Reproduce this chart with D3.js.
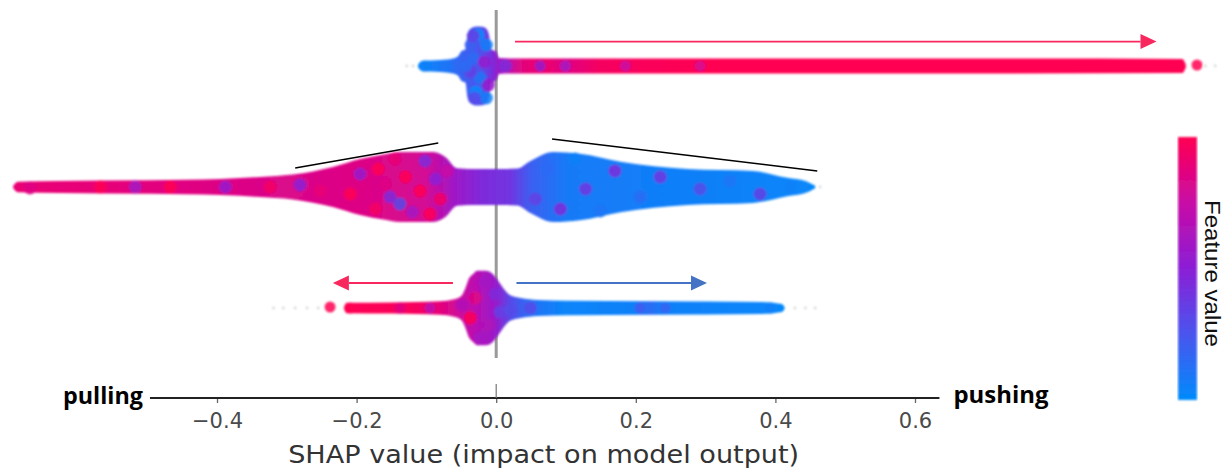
<!DOCTYPE html>
<html><head><meta charset="utf-8">
<script src="https://cdn.jsdelivr.net/npm/d3@7"></script>
<style>html,body{margin:0;padding:0;background:#fff;} svg{display:block;}</style>
</head><body>
<svg id="chart" width="1225" height="469"></svg>
<script>
// ---------------- data ----------------
const features = ["feature_1", "feature_2", "feature_3"];
const tickValues = [-0.4, -0.2, 0.0, 0.2, 0.4, 0.6];
const axisExtent = [-0.496, 0.635];
const xLabel = "SHAP value (impact on model output)";
const colorbarLabel = "Feature value";
const leftLabel = "pulling";
const rightLabel = "pushing";

// colormap stops (feature value -> colour)
const cmapStops = [0, 0.25, 0.5, 0.75, 1];
const cmapColors = ["#008bfb", "#4a55ee", "#8b1fd6", "#c80aa6", "#ff0052"];

// density profiles: [shap value, half-width density]
const profile1 = [[-0.112,0.03],[-0.106,0.13],[-0.08,0.15],[-0.062,0.19],[-0.055,0.24],[-0.05,0.37],[-0.044,0.42],[-0.041,0.8],[-0.037,0.93],[-0.028,0.99],[-0.02,0.98],[-0.014,0.93],[-0.01,0.75],[-0.007,0.42],[0.0,0.36],[0.004,0.2],[0.02,0.19],[0.3,0.185],[0.7,0.185],[0.983,0.175],[0.988,0.04]];
const profile2 = [[-0.692,0.03],[-0.685,0.13],[-0.625,0.15],[-0.496,0.17],[-0.395,0.2],[-0.338,0.25],[-0.291,0.31],[-0.234,0.5],[-0.195,0.7],[-0.159,0.82],[-0.138,0.875],[-0.09,0.875],[-0.073,0.75],[-0.056,0.47],[-0.037,0.45],[0.006,0.45],[0.03,0.46],[0.049,0.65],[0.082,0.875],[0.12,0.83],[0.178,0.63],[0.274,0.45],[0.368,0.4],[0.417,0.23],[0.443,0.15],[0.457,0.03]];
const profile3 = [[-0.218,0.03],[-0.214,0.13],[-0.15,0.14],[-0.08,0.17],[-0.06,0.22],[-0.05,0.3],[-0.043,0.55],[-0.04,0.7],[-0.033,0.85],[-0.027,0.93],[-0.015,0.93],[-0.005,0.85],[0.002,0.7],[0.01,0.5],[0.02,0.32],[0.035,0.25],[0.06,0.2],[0.1,0.18],[0.22,0.17],[0.38,0.15],[0.409,0.1],[0.413,0.03]];

// colour profiles: [shap value, feature value 0..1]
const color1 = [[-0.112,0.02],[-0.07,0.1],[-0.045,0.2],[-0.02,0.28],[-0.005,0.45],[0.01,0.65],[0.04,0.88],[0.07,0.92],[0.1,0.85],[0.15,0.96],[0.3,1.0],[1.0,1.0]];
const color2 = [[-0.69,0.9],[-0.55,0.88],[-0.4,0.85],[-0.3,0.83],[-0.2,0.85],[-0.1,0.8],[-0.06,0.58],[-0.02,0.45],[0.02,0.4],[0.05,0.2],[0.1,0.08],[0.2,0.06],[0.3,0.05],[0.46,0.02]];
const color3 = [[-0.22,1.0],[-0.12,0.97],[-0.09,0.92],[-0.06,0.8],[-0.03,0.7],[0.0,0.55],[0.02,0.3],[0.05,0.12],[0.1,0.03],[0.2,0.05],[0.22,0.15],[0.24,0.05],[0.41,0.02]];

// visible dots: [shap value, swarm offset, feature value]
const dots1 = [[-0.026,-0.775,0.0],[-0.014,-0.525,0.05],[-0.033,-0.2,0.15],[-0.023,0.3,0.1],[-0.029,0.65,0.0],[-0.014,0.8,0.05],[-0.037,0.15,0.35],[-0.017,-0.1,0.55],[-0.044,0.0,0.15],[-0.011,0.475,0.55],[-0.036,-0.525,0.2],[-0.031,0.8,0.3],[-0.033,-0.75,0.35],[-0.102,0.0,0.05],[-0.073,0.0,0.1],[0.013,0.0,0.45],[0.063,0.0,0.55],[0.099,0.0,0.6],[0.185,0.0,0.75],[0.292,0.0,0.8],[1.004,-0.025,1.0]];
const dots2 = [[-0.668,0.025,0.85],[-0.567,0,1.0],[-0.517,0,0.6],[-0.467,0,1.0],[-0.388,0,0.55],[-0.324,0,0.95],[-0.281,-0.05,0.5],[-0.252,0.1,0.9],[-0.209,0.175,1.0],[-0.195,-0.325,0.55],[-0.173,0.55,0.95],[-0.169,-0.45,1.0],[-0.152,0.25,0.45],[-0.145,-0.7,0.9],[-0.13,-0.25,1.0],[-0.12,0.625,0.6],[-0.109,0.1,1.0],[-0.102,-0.65,0.45],[-0.095,0.675,1.0],[-0.087,-0.2,0.5],[-0.08,0.3,0.95],[-0.07,-0.4,0.75],[-0.138,0.425,0.3],[-0.159,-0.075,0.85],[0.056,0.3,0.35],[0.074,-0.45,0.15],[0.092,0.55,0.45],[0.113,-0.7,0.05],[0.128,0.05,0.4],[0.149,0.6,0.1],[0.17,-0.4,0.45],[0.206,0.25,0.15],[0.235,-0.25,0.4],[0.292,0.05,0.3],[0.335,-0.15,0.1],[0.378,0.175,0.35],[0.421,0,0.05]];
const dots3 = [[-0.238,-0.025,1.0],[-0.209,0,1.0],[-0.138,0,0.85],[-0.095,0,0.7],[-0.016,-0.65,0.6],[-0.03,-0.25,0.85],[-0.001,-0.35,0.45],[-0.037,0.25,1.0],[-0.011,0.425,0.65],[-0.023,0.75,0.6],[0.006,0.1,0.35],[-0.049,-0.075,0.65],[0.02,0.05,0.3],[0.049,0,0.3],[0.206,0,0.22],[0.242,0,0.18],[0.393,0,0.05]];

// faint outliers (shap values)
const faint1 = [-0.128, -0.119, 1.016, 1.03];
const faint2 = [0.464];
const faint3 = [-0.319, -0.305, -0.288, -0.271, -0.255, 0.428, 0.443, 0.457];

// annotations
const arrows = [
  {row: "feature_1", from: 0.027, to: 0.946, offset: -0.61, color: "#f8285f"},
  {row: "feature_3", from: -0.062, to: -0.234, offset: -0.625, color: "#f8285f"},
  {row: "feature_3", from: 0.029, to: 0.302, offset: -0.625, color: "#4472c4"}
];
const guideLines = [
  {row: "feature_2", x1: -0.288, o1: -0.475, x2: -0.083, o2: -1.1},
  {row: "feature_2", x1: 0.080, o1: -1.2, x2: 0.460, o2: -0.4}
];

const rows = [
  {name: features[0], profile: profile1, color: color1, dots: dots1, faint: faint1},
  {name: features[1], profile: profile2, color: color2, dots: dots2, faint: faint2},
  {name: features[2], profile: profile3, color: color3, dots: dots3, faint: faint3}
];

// ---------------- scales ----------------
const svg = d3.select("#chart");
const x = d3.scaleLinear().domain([-0.4, 0.6]).range([217, 915]);
const yRow = d3.scalePoint().domain(features).range([66, 308]);
const yOff = d3.scaleLinear().domain([-1, 1]).range([-40, 40]);
const colorScale = d3.scaleLinear().domain(cmapStops).range(cmapColors).interpolate(d3.interpolateRgb);

const defs = svg.append("defs");
defs.append("filter").attr("id", "soft")
  .attr("x", "-5%").attr("y", "-20%").attr("width", "110%").attr("height", "140%")
  .append("feGaussianBlur").attr("stdDeviation", 0.9);

// ---------------- zero line ----------------
svg.append("line")
  .attr("x1", x(0)).attr("x2", x(0))
  .attr("y1", yRow(features[0]) - 56).attr("y2", yRow(features[2]) + 50)
  .attr("stroke", "#9a9a9a").attr("stroke-width", 3);

// ---------------- rows ----------------
const rowsG = svg.append("g").attr("filter", "url(#soft)");
rows.forEach((r, i) => {
  const cy = yRow(r.name);
  const gid = "grad" + i;
  const x1 = x(r.color[0][0]), x2 = x(r.color[r.color.length - 1][0]);
  const grad = defs.append("linearGradient").attr("id", gid)
    .attr("gradientUnits", "userSpaceOnUse")
    .attr("x1", x1).attr("x2", x2).attr("y1", 0).attr("y2", 0);
  r.color.forEach(c => {
    grad.append("stop").attr("offset", (x(c[0]) - x1) / (x2 - x1)).attr("stop-color", colorScale(c[1]));
  });
  const area = d3.area()
    .x(d => x(d[0]))
    .y0(d => cy - yOff(d[1]))
    .y1(d => cy + yOff(d[1]))
    .curve(d3.curveMonotoneX);
  rowsG.selectAll(null).data(r.faint).enter().append("circle")
    .attr("cx", d => x(d)).attr("cy", cy).attr("r", 1.4).attr("fill", "#d8d8d8");
  rowsG.append("path").datum(r.profile)
    .attr("d", area)
    .attr("fill", `url(#${gid})`);
  rowsG.selectAll(null).data(r.dots).enter().append("circle")
    .attr("cx", d => x(d[0]))
    .attr("cy", d => cy + yOff(d[1]))
    .attr("r", (d) => (Math.abs(d[1]) < 0.05 && i !== 1 && Math.abs(d[0]) > 0.06) ? 5.5 : 6.5)
    .attr("fill", d => colorScale(d[2]))
    .attr("fill-opacity", 0.85);
});

// ---------------- annotations ----------------
arrows.forEach(a => {
  const cy = yRow(a.row) + yOff(a.offset);
  const xs = x(a.from), xt = x(a.to);
  const dir = Math.sign(xt - xs);
  const headLen = 16, headHalf = 7.5;
  svg.append("line")
    .attr("x1", xs).attr("x2", xt - dir * headLen)
    .attr("y1", cy).attr("y2", cy)
    .attr("stroke", a.color).attr("stroke-width", 1.8);
  svg.append("path")
    .attr("d", `M${xt},${cy}L${xt - dir * headLen},${cy - headHalf}L${xt - dir * headLen},${cy + headHalf}Z`)
    .attr("fill", a.color);
});
guideLines.forEach(g => {
  const cy = yRow(g.row);
  svg.append("line")
    .attr("x1", x(g.x1)).attr("y1", cy + yOff(g.o1))
    .attr("x2", x(g.x2)).attr("y2", cy + yOff(g.o2))
    .attr("stroke", "#000").attr("stroke-width", 1.5);
});

// ---------------- axis ----------------
const axisY = 398;
const axisG = svg.append("g").attr("transform", `translate(0,${axisY})`);
axisG.call(d3.axisBottom(x).tickValues(tickValues).tickFormat(d3.format(".1f")).tickSize(5));
axisG.select(".domain").remove();
axisG.selectAll(".tick line").attr("stroke", "#666").attr("stroke-width", 1.3);
axisG.selectAll(".tick text")
  .attr("y", 30).attr("dy", 0)
  .attr("fill", "#4a4a4a")
  .style("font-family", "'DejaVu Sans', sans-serif")
  .style("font-size", "21px");
axisG.append("line")
  .attr("x1", x(axisExtent[0])).attr("x2", x(axisExtent[1]))
  .attr("y1", 0).attr("y2", 0)
  .attr("stroke", "#222").attr("stroke-width", 2);
axisG.append("line")
  .attr("x1", x(0)).attr("x2", x(0)).attr("y1", -14).attr("y2", 0)
  .attr("stroke", "#777").attr("stroke-width", 1.2);

svg.append("text")
  .attr("x", x(0) + 47.5).attr("y", 463)
  .attr("text-anchor", "middle")
  .attr("textLength", 511).attr("lengthAdjust", "spacingAndGlyphs")
  .attr("fill", "#333")
  .style("font-family", "'DejaVu Sans', sans-serif")
  .style("font-size", "24px")
  .text(xLabel);

svg.append("text")
  .attr("x", x(axisExtent[0]) - 7).attr("y", 404)
  .attr("text-anchor", "end")
  .attr("textLength", 80).attr("lengthAdjust", "spacingAndGlyphs")
  .attr("fill", "#000")
  .style("font-family", "'Open Sans', 'Liberation Sans', sans-serif")
  .style("font-weight", "bold")
  .style("font-size", "23px")
  .text(leftLabel);
svg.append("text")
  .attr("x", x(axisExtent[1]) + 14).attr("y", 403)
  .attr("text-anchor", "start")
  .attr("textLength", 95).attr("lengthAdjust", "spacingAndGlyphs")
  .attr("fill", "#000")
  .style("font-family", "'Open Sans', 'Liberation Sans', sans-serif")
  .style("font-weight", "bold")
  .style("font-size", "23px")
  .text(rightLabel);

// ---------------- colorbar ----------------
const cbY = d3.scaleLinear().domain([0, 1]).range([400, 137]);
const cbGrad = defs.append("linearGradient").attr("id", "cbgrad")
  .attr("x1", 0).attr("x2", 0).attr("y1", 1).attr("y2", 0);
cmapStops.forEach((t, k) => {
  cbGrad.append("stop").attr("offset", t).attr("stop-color", cmapColors[k]);
});
svg.append("rect")
  .attr("x", 1178).attr("width", 19)
  .attr("y", cbY(1)).attr("height", cbY(0) - cbY(1))
  .attr("fill", "url(#cbgrad)")
  .attr("filter", "url(#soft)");
svg.append("text")
  .attr("transform", `translate(1205,${(cbY(0) + cbY(1)) / 2 + 5}) rotate(90)`)
  .attr("text-anchor", "middle")
  .attr("textLength", 147).attr("lengthAdjust", "spacingAndGlyphs")
  .attr("fill", "#111")
  .style("font-family", "'Liberation Sans', Arial, sans-serif")
  .style("font-size", "22px")
  .text(colorbarLabel);
</script>
</body></html>
